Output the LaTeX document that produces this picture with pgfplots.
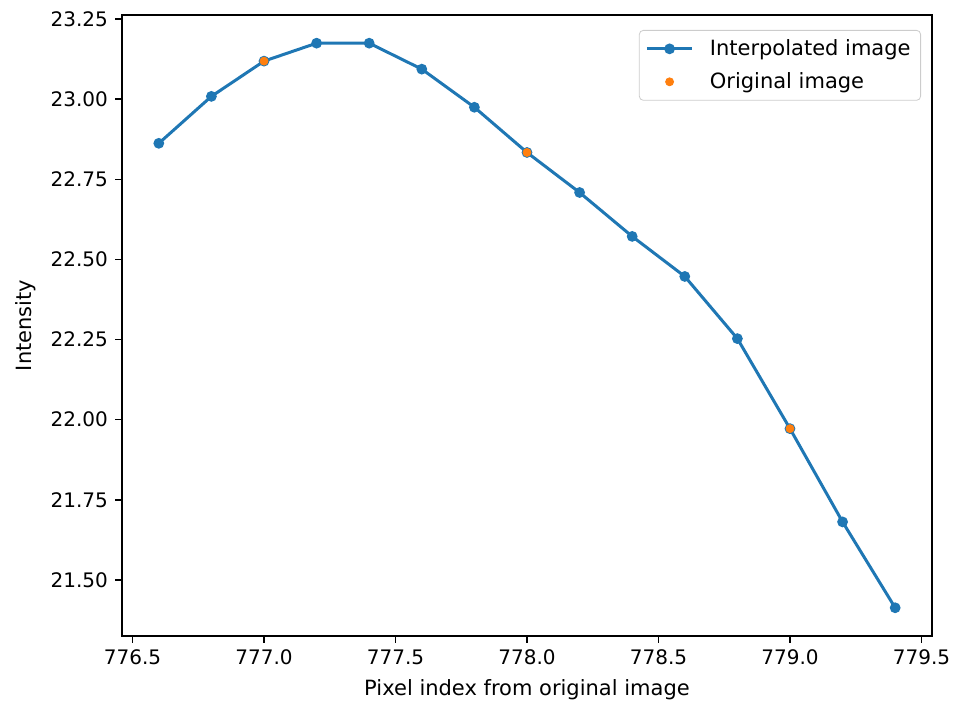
\documentclass[border=0pt]{standalone}
\usepackage{pgfplots}
\pgfplotsset{compat=1.18}
\usepackage{fontspec}
\setmainfont{DejaVu Sans}
\definecolor{c0}{HTML}{1F77B4}
\definecolor{c1}{HTML}{FF7F0E}
\begin{document}
\begin{tikzpicture}
\begin{axis}[
  name=ax,
  scale only axis,
  width=405pt, height=310.5pt,
  xmin=776.46, xmax=779.54,
  ymin=21.325, ymax=23.263,
  xtick={776.5,777.0,777.5,778.0,778.5,779.0,779.5},
  ytick={21.50,21.75,22.00,22.25,22.50,22.75,23.00,23.25},
  xticklabel style={/pgf/number format/.cd, fixed, fixed zerofill, precision=1, 1000 sep={}},
  yticklabel style={/pgf/number format/.cd, fixed, fixed zerofill, precision=2},
  /pgf/number format/assume math mode=true,
  tick align=outside,
  tick pos=left,
  major tick length=3.5pt,
  tick style={black, line width=0.8pt},
  axis line style={line width=0.8pt},
  xlabel={Pixel index from original image},
  ylabel={Intensity},
  every axis x label/.style={at={(axis description cs:0.5,0)}, anchor=center, yshift=-27pt},
  every axis y label/.style={at={(axis description cs:0,0.5)}, anchor=center, xshift=-48pt, rotate=90},
  label style={font=\fontsize{10.5}{12}\selectfont},
  ticklabel style={font=\fontsize{10}{12}\selectfont},
  legend cell align=left,
  legend style={at={(axis description cs:1,1)}, anchor=north east, xshift=-5.5pt, yshift=-7.5pt,
    draw=black!20, rounded corners=2pt, font=\fontsize{10.5}{12}\selectfont, inner xsep=3pt, inner ysep=2.5pt, row sep=3pt, column sep=6pt},
]
\addplot[color=c0, line width=1.5pt, mark=*, mark size=1.9pt, mark options={fill=c0, draw=none},
  legend image code/.code={\draw[mark repeat=2, mark phase=2] plot coordinates {(0cm,0cm) (0.4cm,0cm) (0.8cm,0cm)};}] coordinates {
(776.6,22.8625) (776.8,23.009) (777.0,23.119) (777.2,23.175) (777.4,23.175)
(777.6,23.094) (777.8,22.975) (778.0,22.834) (778.2,22.709) (778.4,22.572)
(778.6,22.447) (778.8,22.253) (779.0,21.972) (779.2,21.681) (779.4,21.413)
};
\addlegendentry{Interpolated image}
\addplot[only marks, mark=*, mark size=2.0pt, color=c1, mark options={fill=c1, draw=none},
  legend image code/.code={\path[draw=none] (0cm,0cm) -- (0.8cm,0cm); \path[draw=none] plot[only marks] coordinates {(0.4cm,0cm)};}] coordinates {
(777.0,23.119) (778.0,22.834) (779.0,21.972)
};
\addlegendentry{Original image}
\end{axis}
\pgfresetboundingbox
\path ([xshift=-61pt,yshift=-33.5pt]ax.south west) rectangle ([xshift=11.5pt,yshift=7.5pt]ax.north east);
\end{tikzpicture}
\end{document}
